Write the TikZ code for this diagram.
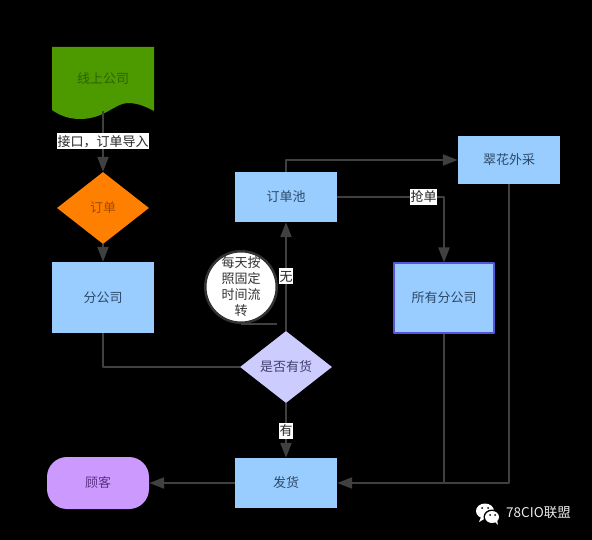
\documentclass[tikz,border=0pt]{standalone}
\usepackage{fontspec}
\setmainfont{Noto Sans CJK SC}
\usetikzlibrary{arrows.meta,shapes.geometric}
\definecolor{linegray}{HTML}{404040}
\definecolor{boxblue}{HTML}{99CCFF}
\definecolor{boxtext}{HTML}{2C4A68}
\definecolor{onlinegreen}{RGB}{76,153,0}
\tikzset{
  box/.style={fill=boxblue,text=boxtext,minimum width=102pt,inner sep=0pt},
  choice/.style={diamond,aspect=1.28,inner sep=0pt,minimum width=92pt,minimum height=72pt},
  line/.style={draw=linegray,line width=2.2pt},
  flow/.style={line,-{Triangle[length=15pt,width=11pt]}},
  lab/.style={fill=white,text=black!85,inner xsep=0.5pt,inner ysep=0.5pt,minimum height=16pt}
}
\begin{document}
\begin{tikzpicture}[x=1pt,y=-1pt,font=\fontsize{13}{16}\selectfont, line join=round, >=stealth]
	\useasboundingbox[fill=black] (0,0) rectangle (592,540);
	% wavy sheet behind the first node
	\fill[onlinegreen] (52,47) -- (154,47) -- (154,111) .. controls (143,105) and (135,103) .. (128,103) .. controls (115,103) and (105,119) .. (80,119) .. controls (68,119) and (59,115) .. (52,110) -- cycle;
	% nodes
	\node[minimum width=102pt,minimum height=64pt,inner sep=0pt,text={rgb,255:red,44;green,100;blue,0}] (online) at (103,79) {线上公司};
	\node[choice,fill={rgb,255:red,255;green,128;blue,0},text={rgb,255:red,160;green,76;blue,0}] (order) at (103,208) {订单};
	\node[box,minimum height=71pt] (branch) at (103,297.5) {分公司};
	\node[choice,fill={rgb,255:red,204;green,204;blue,255},text={rgb,255:red,64;green,64;blue,110}] (stock) at (286,367) {是否有货};
	\node[box,minimum height=50pt] (pool) at (286,197) {订单池};
	\node[box,minimum height=48pt] (buy) at (509,160) {翠花外采};
	\node[box,minimum height=69pt,minimum width=100pt,draw={rgb,255:red,85;green,85;blue,220},line width=2pt] (all) at (444,298) {所有分公司};
	\node[box,minimum height=50pt] (ship) at (286,483) {发货};
	\node[rounded corners=20pt,fill={rgb,255:red,204;green,153;blue,255},text={rgb,255:red,90;green,50;blue,130},minimum width=102pt,minimum height=52pt,inner sep=0pt] (guest) at (98,483) {顾客};
	\node[circle,draw=black!80,line width=2.5pt,fill=white,text=black!80,minimum size=69pt,inner sep=0pt,align=center] (memo) at (241,287) {每天按\\照固定\\时间流\\转};
	\coordinate (memoend) at (277,322);
	% connectors
	\draw[flow] (online.south) -- node[lab] {接口，订单导入} (order.north);
	\draw[flow] (order.south) -- (branch.north);
	\draw[line] (branch.south) |- (stock.west);
	\draw[flow] (stock.north) -- node[lab] {无} (pool.south);
	\draw[flow] (stock.south) -- node[lab] {有} (ship.north);
	\draw[flow] (pool.north) |- (buy.west);
	\draw[flow] (pool.east) -- node[lab,pos=.81] {抢单} (pool.east -| all.north) -- (all.north);
	\draw[flow] (buy.south) |- (ship.east);
	\draw[line] (all.south) -- (all.south |- ship.east);
	\draw[flow] (ship.west) -- (guest.east);
	\draw[line,line width=1.6pt] (memo.south) -- (memoend |- memo.south);
	% logo
	\fill[white] (485,511) ellipse (9 and 7.5);
	\fill[white] (481,517) -- (479,522) -- (486,518) -- cycle;
	\fill[black] (492,517) ellipse (8.5 and 7.5);
	\fill[white] (492,517) ellipse (7 and 6);
	\fill[white] (495,522) -- (498,525) -- (497,520) -- cycle;
	\foreach \px/\py in {482/508,488/508,490/515,495/515} \fill[black] (\px,\py) circle (1);
	\node[text=white!92!black,font=\fontsize{13.5}{16}\selectfont,inner sep=0pt] (logo) at (538.5,513) {78CIO联盟};
\end{tikzpicture}
\end{document}
